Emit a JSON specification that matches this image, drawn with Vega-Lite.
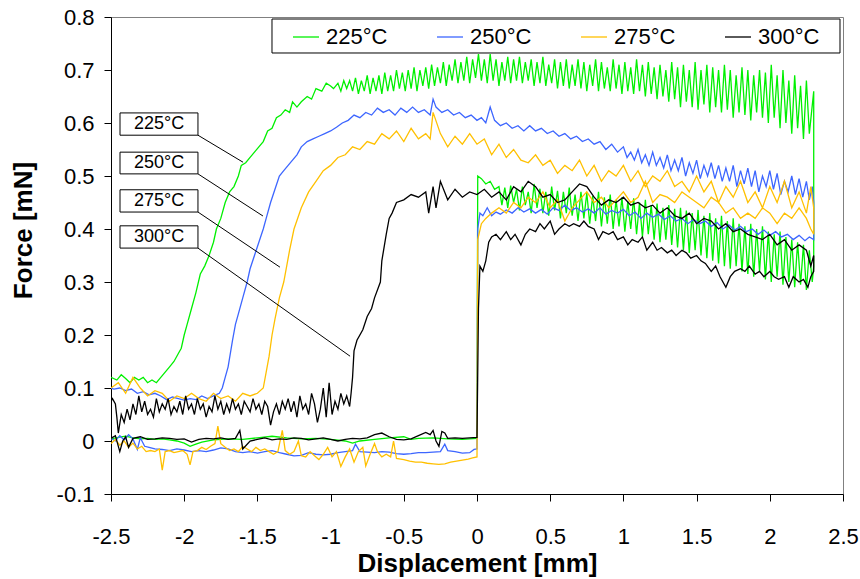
{
"$schema": "https://vega.github.io/schema/vega-lite/v6.json",
"width": 732, "height": 477,
"autosize": {"type": "none"},
"padding": {"left": 111, "top": 17, "right": 17, "bottom": 85},
"background": "white",
"config": {
  "font": "Liberation Sans",
  "view": {"stroke": "#808080", "strokeWidth": 1},
  "axis": {"grid": false, "domainColor": "black", "tickColor": "black", "labelColor": "black", "titleColor": "black", "tickSize": 7, "labelFontSize": 22, "titleFontSize": 26, "titleFontWeight": "bold", "labelFlush": false, "labelOverlap": false}
},
"layer": [
{
"data": {"values": [
{"s":"225°C","x":-2.5,"y":0.004},{"s":"225°C","x":-2.45,"y":0.007},{"s":"225°C","x":-2.4,"y":0.009},{"s":"225°C","x":-2.35,"y":0.006},{"s":"225°C","x":-2.3,"y":0.004},{"s":"225°C","x":-2.25,"y":0.005},{"s":"225°C","x":-2.2,"y":0.003},{"s":"225°C","x":-2.15,"y":0.004},{"s":"225°C","x":-2.1,"y":0.002},{"s":"225°C","x":-2.05,"y":0.0},{"s":"225°C","x":-2.0,"y":-0.004},{"s":"225°C","x":-1.96,"y":-0.01},{"s":"225°C","x":-1.92,"y":-0.006},{"s":"225°C","x":-1.88,"y":-0.002},{"s":"225°C","x":-1.8,"y":0.002},{"s":"225°C","x":-1.7,"y":0.004},{"s":"225°C","x":-1.6,"y":0.003},{"s":"225°C","x":-1.5,"y":0.006},{"s":"225°C","x":-1.4,"y":0.009},{"s":"225°C","x":-1.3,"y":0.006},{"s":"225°C","x":-1.2,"y":0.004},{"s":"225°C","x":-1.1,"y":0.005},{"s":"225°C","x":-1.0,"y":0.003},{"s":"225°C","x":-0.9,"y":0.0},{"s":"225°C","x":-0.85,"y":-0.004},{"s":"225°C","x":-0.8,"y":0.0},{"s":"225°C","x":-0.7,"y":0.003},{"s":"225°C","x":-0.6,"y":0.006},{"s":"225°C","x":-0.5,"y":0.008},{"s":"225°C","x":-0.45,"y":0.003},{"s":"225°C","x":-0.4,"y":0.005},{"s":"225°C","x":-0.3,"y":0.006},{"s":"225°C","x":-0.2,"y":0.004},{"s":"225°C","x":-0.1,"y":0.003},{"s":"225°C","x":-0.05,"y":0.004},{"s":"225°C","x":0.0,"y":0.005},
{"s":"225°C","x":0.005,"y":0.50},{"s":"225°C","x":0.03,"y":0.495},{"s":"225°C","x":0.06,"y":0.485},{"s":"225°C","x":0.09,"y":0.49},{"s":"225°C","x":0.12,"y":0.475},{"s":"225°C","x":0.15,"y":0.48},
{"s":"225°C","x":0.17,"y":0.445},{"s":"225°C","x":0.19,"y":0.478},{"s":"225°C","x":0.21,"y":0.44},{"s":"225°C","x":0.23,"y":0.482},{"s":"225°C","x":0.25,"y":0.45},{"s":"225°C","x":0.27,"y":0.475},{"s":"225°C","x":0.29,"y":0.435},{"s":"225°C","x":0.31,"y":0.48},{"s":"225°C","x":0.33,"y":0.445},{"s":"225°C","x":0.35,"y":0.47},{"s":"225°C","x":0.37,"y":0.43},{"s":"225°C","x":0.39,"y":0.485},{"s":"225°C","x":0.41,"y":0.44},{"s":"225°C","x":0.43,"y":0.476},{"s":"225°C","x":0.45,"y":0.43},{"s":"225°C","x":0.47,"y":0.47},{"s":"225°C","x":0.49,"y":0.425},{"s":"225°C","x":0.51,"y":0.48},{"s":"225°C","x":0.53,"y":0.435},{"s":"225°C","x":0.55,"y":0.472},{"s":"225°C","x":0.57,"y":0.42},{"s":"225°C","x":0.59,"y":0.47},{"s":"225°C","x":0.61,"y":0.43},{"s":"225°C","x":0.63,"y":0.478},{"s":"225°C","x":0.65,"y":0.425},{"s":"225°C","x":0.67,"y":0.465},{"s":"225°C","x":0.69,"y":0.415},{"s":"225°C","x":0.71,"y":0.47},{"s":"225°C","x":0.73,"y":0.42},{"s":"225°C","x":0.75,"y":0.468},{"s":"225°C","x":0.77,"y":0.41},{"s":"225°C","x":0.79,"y":0.462},{"s":"225°C","x":0.81,"y":0.415},{"s":"225°C","x":0.83,"y":0.47},{"s":"225°C","x":0.85,"y":0.405},{"s":"225°C","x":0.87,"y":0.46},{"s":"225°C","x":0.89,"y":0.41},{"s":"225°C","x":0.91,"y":0.465},{"s":"225°C","x":0.93,"y":0.40},{"s":"225°C","x":0.95,"y":0.455},{"s":"225°C","x":0.97,"y":0.405},{"s":"225°C","x":0.99,"y":0.46},{"s":"225°C","x":1.01,"y":0.395},{"s":"225°C","x":1.03,"y":0.452},{"s":"225°C","x":1.05,"y":0.40},{"s":"225°C","x":1.07,"y":0.458},{"s":"225°C","x":1.09,"y":0.39},{"s":"225°C","x":1.11,"y":0.45},{"s":"225°C","x":1.13,"y":0.385},{"s":"225°C","x":1.15,"y":0.455},{"s":"225°C","x":1.17,"y":0.39},{"s":"225°C","x":1.19,"y":0.445},{"s":"225°C","x":1.21,"y":0.38},{"s":"225°C","x":1.23,"y":0.448},{"s":"225°C","x":1.25,"y":0.375},{"s":"225°C","x":1.27,"y":0.44},{"s":"225°C","x":1.29,"y":0.38},{"s":"225°C","x":1.31,"y":0.445},{"s":"225°C","x":1.33,"y":0.37},{"s":"225°C","x":1.35,"y":0.438},{"s":"225°C","x":1.37,"y":0.365},{"s":"225°C","x":1.39,"y":0.44},{"s":"225°C","x":1.41,"y":0.36},{"s":"225°C","x":1.43,"y":0.435},{"s":"225°C","x":1.45,"y":0.355},{"s":"225°C","x":1.47,"y":0.43},{"s":"225°C","x":1.49,"y":0.36},{"s":"225°C","x":1.51,"y":0.436},{"s":"225°C","x":1.53,"y":0.35},{"s":"225°C","x":1.55,"y":0.425},{"s":"225°C","x":1.57,"y":0.345},{"s":"225°C","x":1.59,"y":0.43},{"s":"225°C","x":1.61,"y":0.34},{"s":"225°C","x":1.63,"y":0.42},{"s":"225°C","x":1.65,"y":0.335},{"s":"225°C","x":1.67,"y":0.425},{"s":"225°C","x":1.69,"y":0.33},{"s":"225°C","x":1.71,"y":0.415},{"s":"225°C","x":1.73,"y":0.325},{"s":"225°C","x":1.75,"y":0.42},{"s":"225°C","x":1.77,"y":0.33},{"s":"225°C","x":1.79,"y":0.41},{"s":"225°C","x":1.81,"y":0.32},{"s":"225°C","x":1.83,"y":0.405},{"s":"225°C","x":1.85,"y":0.315},{"s":"225°C","x":1.87,"y":0.41},{"s":"225°C","x":1.89,"y":0.31},{"s":"225°C","x":1.91,"y":0.40},{"s":"225°C","x":1.93,"y":0.32},{"s":"225°C","x":1.95,"y":0.405},{"s":"225°C","x":1.97,"y":0.305},{"s":"225°C","x":1.99,"y":0.395},{"s":"225°C","x":2.01,"y":0.30},{"s":"225°C","x":2.03,"y":0.39},{"s":"225°C","x":2.05,"y":0.31},{"s":"225°C","x":2.07,"y":0.395},{"s":"225°C","x":2.09,"y":0.295},{"s":"225°C","x":2.11,"y":0.385},{"s":"225°C","x":2.13,"y":0.30},{"s":"225°C","x":2.15,"y":0.38},{"s":"225°C","x":2.17,"y":0.29},{"s":"225°C","x":2.19,"y":0.375},{"s":"225°C","x":2.21,"y":0.295},{"s":"225°C","x":2.23,"y":0.37},{"s":"225°C","x":2.25,"y":0.285},{"s":"225°C","x":2.27,"y":0.36},{"s":"225°C","x":2.29,"y":0.30},{"s":"225°C","x":2.3,"y":0.33},
{"s":"225°C","x":2.3,"y":0.66},{"s":"225°C","x":2.27,"y":0.58},{"s":"225°C","x":2.25,"y":0.68},{"s":"225°C","x":2.23,"y":0.57},{"s":"225°C","x":2.21,"y":0.67},{"s":"225°C","x":2.19,"y":0.59},{"s":"225°C","x":2.17,"y":0.69},{"s":"225°C","x":2.15,"y":0.58},{"s":"225°C","x":2.13,"y":0.68},{"s":"225°C","x":2.11,"y":0.60},{"s":"225°C","x":2.09,"y":0.70},{"s":"225°C","x":2.07,"y":0.59},{"s":"225°C","x":2.05,"y":0.69},{"s":"225°C","x":2.03,"y":0.61},{"s":"225°C","x":2.01,"y":0.71},{"s":"225°C","x":1.99,"y":0.60},{"s":"225°C","x":1.97,"y":0.695},{"s":"225°C","x":1.95,"y":0.61},{"s":"225°C","x":1.93,"y":0.70},{"s":"225°C","x":1.91,"y":0.62},{"s":"225°C","x":1.89,"y":0.69},{"s":"225°C","x":1.87,"y":0.605},{"s":"225°C","x":1.85,"y":0.70},{"s":"225°C","x":1.83,"y":0.615},{"s":"225°C","x":1.81,"y":0.705},{"s":"225°C","x":1.79,"y":0.62},{"s":"225°C","x":1.77,"y":0.69},{"s":"225°C","x":1.75,"y":0.61},{"s":"225°C","x":1.73,"y":0.70},{"s":"225°C","x":1.71,"y":0.625},{"s":"225°C","x":1.69,"y":0.71},{"s":"225°C","x":1.67,"y":0.62},{"s":"225°C","x":1.65,"y":0.70},{"s":"225°C","x":1.63,"y":0.63},{"s":"225°C","x":1.61,"y":0.705},{"s":"225°C","x":1.59,"y":0.62},{"s":"225°C","x":1.57,"y":0.71},{"s":"225°C","x":1.55,"y":0.635},{"s":"225°C","x":1.53,"y":0.70},{"s":"225°C","x":1.51,"y":0.625},{"s":"225°C","x":1.49,"y":0.715},{"s":"225°C","x":1.47,"y":0.63},{"s":"225°C","x":1.45,"y":0.70},{"s":"225°C","x":1.43,"y":0.64},{"s":"225°C","x":1.41,"y":0.71},{"s":"225°C","x":1.39,"y":0.63},{"s":"225°C","x":1.37,"y":0.705},{"s":"225°C","x":1.35,"y":0.645},{"s":"225°C","x":1.33,"y":0.715},{"s":"225°C","x":1.31,"y":0.64},{"s":"225°C","x":1.29,"y":0.70},{"s":"225°C","x":1.27,"y":0.65},{"s":"225°C","x":1.25,"y":0.71},{"s":"225°C","x":1.23,"y":0.645},{"s":"225°C","x":1.21,"y":0.705},{"s":"225°C","x":1.19,"y":0.655},{"s":"225°C","x":1.17,"y":0.715},{"s":"225°C","x":1.15,"y":0.65},{"s":"225°C","x":1.13,"y":0.71},{"s":"225°C","x":1.11,"y":0.66},{"s":"225°C","x":1.09,"y":0.72},{"s":"225°C","x":1.07,"y":0.655},{"s":"225°C","x":1.05,"y":0.705},{"s":"225°C","x":1.03,"y":0.66},{"s":"225°C","x":1.01,"y":0.715},{"s":"225°C","x":0.99,"y":0.655},{"s":"225°C","x":0.97,"y":0.71},{"s":"225°C","x":0.95,"y":0.665},{"s":"225°C","x":0.93,"y":0.72},{"s":"225°C","x":0.91,"y":0.66},{"s":"225°C","x":0.89,"y":0.705},{"s":"225°C","x":0.87,"y":0.665},{"s":"225°C","x":0.85,"y":0.715},{"s":"225°C","x":0.83,"y":0.66},{"s":"225°C","x":0.81,"y":0.72},{"s":"225°C","x":0.79,"y":0.67},{"s":"225°C","x":0.77,"y":0.71},{"s":"225°C","x":0.75,"y":0.66},{"s":"225°C","x":0.73,"y":0.715},{"s":"225°C","x":0.71,"y":0.665},{"s":"225°C","x":0.69,"y":0.72},{"s":"225°C","x":0.67,"y":0.67},{"s":"225°C","x":0.65,"y":0.71},{"s":"225°C","x":0.63,"y":0.665},{"s":"225°C","x":0.61,"y":0.72},{"s":"225°C","x":0.59,"y":0.67},{"s":"225°C","x":0.57,"y":0.715},{"s":"225°C","x":0.55,"y":0.665},{"s":"225°C","x":0.53,"y":0.72},{"s":"225°C","x":0.51,"y":0.675},{"s":"225°C","x":0.49,"y":0.71},{"s":"225°C","x":0.47,"y":0.67},{"s":"225°C","x":0.45,"y":0.725},{"s":"225°C","x":0.43,"y":0.675},{"s":"225°C","x":0.41,"y":0.715},{"s":"225°C","x":0.39,"y":0.67},{"s":"225°C","x":0.37,"y":0.72},{"s":"225°C","x":0.35,"y":0.68},{"s":"225°C","x":0.33,"y":0.715},{"s":"225°C","x":0.31,"y":0.675},{"s":"225°C","x":0.29,"y":0.725},{"s":"225°C","x":0.27,"y":0.68},{"s":"225°C","x":0.25,"y":0.72},{"s":"225°C","x":0.23,"y":0.675},{"s":"225°C","x":0.21,"y":0.725},{"s":"225°C","x":0.19,"y":0.68},{"s":"225°C","x":0.17,"y":0.715},{"s":"225°C","x":0.15,"y":0.67},{"s":"225°C","x":0.13,"y":0.72},{"s":"225°C","x":0.11,"y":0.68},{"s":"225°C","x":0.09,"y":0.73},{"s":"225°C","x":0.07,"y":0.675},{"s":"225°C","x":0.05,"y":0.72},{"s":"225°C","x":0.03,"y":0.68},{"s":"225°C","x":0.01,"y":0.73},{"s":"225°C","x":-0.01,"y":0.685},{"s":"225°C","x":-0.03,"y":0.72},{"s":"225°C","x":-0.05,"y":0.675},{"s":"225°C","x":-0.07,"y":0.725},{"s":"225°C","x":-0.09,"y":0.68},{"s":"225°C","x":-0.11,"y":0.715},{"s":"225°C","x":-0.13,"y":0.675},{"s":"225°C","x":-0.15,"y":0.72},{"s":"225°C","x":-0.17,"y":0.68},{"s":"225°C","x":-0.19,"y":0.71},{"s":"225°C","x":-0.21,"y":0.67},{"s":"225°C","x":-0.23,"y":0.715},{"s":"225°C","x":-0.25,"y":0.675},{"s":"225°C","x":-0.27,"y":0.705},{"s":"225°C","x":-0.29,"y":0.67},{"s":"225°C","x":-0.31,"y":0.71},{"s":"225°C","x":-0.33,"y":0.665},{"s":"225°C","x":-0.35,"y":0.705},{"s":"225°C","x":-0.37,"y":0.67},{"s":"225°C","x":-0.39,"y":0.70},{"s":"225°C","x":-0.41,"y":0.66},{"s":"225°C","x":-0.43,"y":0.705},{"s":"225°C","x":-0.45,"y":0.665},{"s":"225°C","x":-0.47,"y":0.70},{"s":"225°C","x":-0.49,"y":0.66},{"s":"225°C","x":-0.51,"y":0.695},{"s":"225°C","x":-0.53,"y":0.665},{"s":"225°C","x":-0.55,"y":0.70},{"s":"225°C","x":-0.57,"y":0.66},{"s":"225°C","x":-0.59,"y":0.69},{"s":"225°C","x":-0.61,"y":0.66},{"s":"225°C","x":-0.63,"y":0.695},{"s":"225°C","x":-0.65,"y":0.655},{"s":"225°C","x":-0.67,"y":0.69},{"s":"225°C","x":-0.69,"y":0.66},{"s":"225°C","x":-0.71,"y":0.685},{"s":"225°C","x":-0.73,"y":0.655},{"s":"225°C","x":-0.75,"y":0.69},{"s":"225°C","x":-0.77,"y":0.66},{"s":"225°C","x":-0.79,"y":0.68},{"s":"225°C","x":-0.81,"y":0.655},{"s":"225°C","x":-0.83,"y":0.685},{"s":"225°C","x":-0.85,"y":0.66},{"s":"225°C","x":-0.87,"y":0.68},{"s":"225°C","x":-0.89,"y":0.665},{"s":"225°C","x":-0.91,"y":0.68},{"s":"225°C","x":-0.93,"y":0.66},{"s":"225°C","x":-0.95,"y":0.675},{"s":"225°C","x":-0.98,"y":0.665},{"s":"225°C","x":-1.0,"y":0.67},
{"s":"225°C","x":-1.03,"y":0.675},{"s":"225°C","x":-1.06,"y":0.66},{"s":"225°C","x":-1.1,"y":0.665},{"s":"225°C","x":-1.13,"y":0.645},{"s":"225°C","x":-1.16,"y":0.65},{"s":"225°C","x":-1.2,"y":0.64},{"s":"225°C","x":-1.23,"y":0.63},{"s":"225°C","x":-1.26,"y":0.64},{"s":"225°C","x":-1.28,"y":0.62},{"s":"225°C","x":-1.31,"y":0.625},{"s":"225°C","x":-1.34,"y":0.615},{"s":"225°C","x":-1.37,"y":0.61},{"s":"225°C","x":-1.4,"y":0.59},{"s":"225°C","x":-1.43,"y":0.585},{"s":"225°C","x":-1.46,"y":0.565},{"s":"225°C","x":-1.49,"y":0.555},{"s":"225°C","x":-1.52,"y":0.545},{"s":"225°C","x":-1.55,"y":0.535},{"s":"225°C","x":-1.58,"y":0.525},{"s":"225°C","x":-1.61,"y":0.52},{"s":"225°C","x":-1.63,"y":0.5},{"s":"225°C","x":-1.66,"y":0.48},{"s":"225°C","x":-1.69,"y":0.47},{"s":"225°C","x":-1.72,"y":0.45},{"s":"225°C","x":-1.75,"y":0.42},{"s":"225°C","x":-1.78,"y":0.40},{"s":"225°C","x":-1.8,"y":0.375},{"s":"225°C","x":-1.83,"y":0.35},{"s":"225°C","x":-1.86,"y":0.33},{"s":"225°C","x":-1.89,"y":0.315},{"s":"225°C","x":-1.92,"y":0.28},{"s":"225°C","x":-1.95,"y":0.25},{"s":"225°C","x":-1.98,"y":0.22},{"s":"225°C","x":-2.0,"y":0.20},{"s":"225°C","x":-2.02,"y":0.175},{"s":"225°C","x":-2.04,"y":0.165},{"s":"225°C","x":-2.07,"y":0.15},{"s":"225°C","x":-2.1,"y":0.14},{"s":"225°C","x":-2.13,"y":0.13},{"s":"225°C","x":-2.16,"y":0.12},{"s":"225°C","x":-2.19,"y":0.11},{"s":"225°C","x":-2.22,"y":0.115},{"s":"225°C","x":-2.25,"y":0.11},{"s":"225°C","x":-2.28,"y":0.12},{"s":"225°C","x":-2.31,"y":0.115},{"s":"225°C","x":-2.34,"y":0.12},{"s":"225°C","x":-2.37,"y":0.11},{"s":"225°C","x":-2.4,"y":0.118},{"s":"225°C","x":-2.43,"y":0.125},{"s":"225°C","x":-2.46,"y":0.115},{"s":"225°C","x":-2.5,"y":0.12},

{"s":"250°C","x":-2.5,"y":0.005},{"s":"250°C","x":-2.47,"y":0.0},{"s":"250°C","x":-2.44,"y":0.01},{"s":"250°C","x":-2.41,"y":0.002},{"s":"250°C","x":-2.38,"y":0.012},{"s":"250°C","x":-2.35,"y":0.004},{"s":"250°C","x":-2.32,"y":-0.016},{"s":"250°C","x":-2.3,"y":0.006},{"s":"250°C","x":-2.27,"y":-0.01},{"s":"250°C","x":-2.24,"y":-0.012},{"s":"250°C","x":-2.2,"y":-0.015},{"s":"250°C","x":-2.15,"y":-0.016},{"s":"250°C","x":-2.1,"y":-0.018},{"s":"250°C","x":-2.05,"y":-0.015},{"s":"250°C","x":-2.0,"y":-0.017},{"s":"250°C","x":-1.95,"y":-0.02},{"s":"250°C","x":-1.9,"y":-0.018},{"s":"250°C","x":-1.85,"y":-0.02},{"s":"250°C","x":-1.8,"y":-0.017},{"s":"250°C","x":-1.75,"y":-0.013},{"s":"250°C","x":-1.7,"y":-0.015},{"s":"250°C","x":-1.65,"y":-0.02},{"s":"250°C","x":-1.6,"y":-0.022},{"s":"250°C","x":-1.55,"y":-0.02},{"s":"250°C","x":-1.5,"y":-0.023},{"s":"250°C","x":-1.45,"y":-0.02},{"s":"250°C","x":-1.4,"y":-0.018},{"s":"250°C","x":-1.35,"y":-0.022},{"s":"250°C","x":-1.3,"y":-0.025},{"s":"250°C","x":-1.25,"y":-0.028},{"s":"250°C","x":-1.2,"y":-0.027},{"s":"250°C","x":-1.15,"y":-0.022},{"s":"250°C","x":-1.1,"y":-0.025},{"s":"250°C","x":-1.05,"y":-0.026},{"s":"250°C","x":-1.0,"y":-0.025},{"s":"250°C","x":-0.95,"y":-0.022},{"s":"250°C","x":-0.9,"y":-0.02},{"s":"250°C","x":-0.85,"y":-0.018},{"s":"250°C","x":-0.83,"y":-0.006},{"s":"250°C","x":-0.8,"y":-0.02},{"s":"250°C","x":-0.75,"y":-0.021},{"s":"250°C","x":-0.7,"y":-0.022},{"s":"250°C","x":-0.65,"y":-0.02},{"s":"250°C","x":-0.6,"y":-0.021},{"s":"250°C","x":-0.55,"y":-0.024},{"s":"250°C","x":-0.5,"y":-0.025},{"s":"250°C","x":-0.45,"y":-0.024},{"s":"250°C","x":-0.4,"y":-0.022},{"s":"250°C","x":-0.35,"y":-0.022},{"s":"250°C","x":-0.3,"y":-0.021},{"s":"250°C","x":-0.25,"y":-0.02},{"s":"250°C","x":-0.22,"y":-0.006},{"s":"250°C","x":-0.2,"y":-0.018},{"s":"250°C","x":-0.15,"y":-0.02},{"s":"250°C","x":-0.1,"y":-0.023},{"s":"250°C","x":-0.05,"y":-0.022},{"s":"250°C","x":-0.02,"y":-0.016},{"s":"250°C","x":0.0,"y":-0.015},
{"s":"250°C","x":0.005,"y":0.40},{"s":"250°C","x":0.02,"y":0.43},{"s":"250°C","x":0.04,"y":0.425},{"s":"250°C","x":0.07,"y":0.44},{"s":"250°C","x":0.1,"y":0.425},{"s":"250°C","x":0.13,"y":0.432},{"s":"250°C","x":0.16,"y":0.428},{"s":"250°C","x":0.2,"y":0.436},{"s":"250°C","x":0.24,"y":0.43},{"s":"250°C","x":0.28,"y":0.44},{"s":"250°C","x":0.32,"y":0.432},{"s":"250°C","x":0.36,"y":0.438},{"s":"250°C","x":0.4,"y":0.43},{"s":"250°C","x":0.44,"y":0.437},{"s":"250°C","x":0.48,"y":0.428},{"s":"250°C","x":0.52,"y":0.44},{"s":"250°C","x":0.56,"y":0.435},{"s":"250°C","x":0.6,"y":0.445},{"s":"250°C","x":0.64,"y":0.435},{"s":"250°C","x":0.68,"y":0.44},{"s":"250°C","x":0.72,"y":0.432},{"s":"250°C","x":0.76,"y":0.438},{"s":"250°C","x":0.8,"y":0.43},{"s":"250°C","x":0.84,"y":0.44},{"s":"250°C","x":0.88,"y":0.428},{"s":"250°C","x":0.92,"y":0.435},{"s":"250°C","x":0.96,"y":0.43},{"s":"250°C","x":1.0,"y":0.437},{"s":"250°C","x":1.04,"y":0.425},{"s":"250°C","x":1.08,"y":0.432},{"s":"250°C","x":1.12,"y":0.42},{"s":"250°C","x":1.16,"y":0.43},{"s":"250°C","x":1.2,"y":0.422},{"s":"250°C","x":1.24,"y":0.428},{"s":"250°C","x":1.28,"y":0.418},{"s":"250°C","x":1.32,"y":0.425},{"s":"250°C","x":1.36,"y":0.415},{"s":"250°C","x":1.4,"y":0.42},{"s":"250°C","x":1.44,"y":0.41},{"s":"250°C","x":1.48,"y":0.418},{"s":"250°C","x":1.52,"y":0.41},{"s":"250°C","x":1.56,"y":0.415},{"s":"250°C","x":1.6,"y":0.405},{"s":"250°C","x":1.64,"y":0.412},{"s":"250°C","x":1.68,"y":0.40},{"s":"250°C","x":1.72,"y":0.408},{"s":"250°C","x":1.76,"y":0.398},{"s":"250°C","x":1.8,"y":0.405},{"s":"250°C","x":1.84,"y":0.395},{"s":"250°C","x":1.88,"y":0.40},{"s":"250°C","x":1.92,"y":0.39},{"s":"250°C","x":1.96,"y":0.398},{"s":"250°C","x":2.0,"y":0.388},{"s":"250°C","x":2.04,"y":0.395},{"s":"250°C","x":2.08,"y":0.385},{"s":"250°C","x":2.12,"y":0.39},{"s":"250°C","x":2.16,"y":0.38},{"s":"250°C","x":2.2,"y":0.388},{"s":"250°C","x":2.24,"y":0.378},{"s":"250°C","x":2.27,"y":0.385},{"s":"250°C","x":2.3,"y":0.38},
{"s":"250°C","x":2.3,"y":0.45},{"s":"250°C","x":2.29,"y":0.48},{"s":"250°C","x":2.27,"y":0.455},{"s":"250°C","x":2.25,"y":0.49},{"s":"250°C","x":2.225,"y":0.46},{"s":"250°C","x":2.2,"y":0.495},{"s":"250°C","x":2.175,"y":0.465},{"s":"250°C","x":2.15,"y":0.50},{"s":"250°C","x":2.125,"y":0.47},{"s":"250°C","x":2.1,"y":0.49},{"s":"250°C","x":2.075,"y":0.465},{"s":"250°C","x":2.05,"y":0.505},{"s":"250°C","x":2.025,"y":0.475},{"s":"250°C","x":2.0,"y":0.51},{"s":"250°C","x":1.975,"y":0.48},{"s":"250°C","x":1.95,"y":0.50},{"s":"250°C","x":1.925,"y":0.47},{"s":"250°C","x":1.9,"y":0.51},{"s":"250°C","x":1.875,"y":0.48},{"s":"250°C","x":1.85,"y":0.515},{"s":"250°C","x":1.825,"y":0.485},{"s":"250°C","x":1.8,"y":0.51},{"s":"250°C","x":1.775,"y":0.48},{"s":"250°C","x":1.75,"y":0.52},{"s":"250°C","x":1.725,"y":0.49},{"s":"250°C","x":1.7,"y":0.515},{"s":"250°C","x":1.675,"y":0.49},{"s":"250°C","x":1.65,"y":0.52},{"s":"250°C","x":1.625,"y":0.495},{"s":"250°C","x":1.6,"y":0.525},{"s":"250°C","x":1.575,"y":0.50},{"s":"250°C","x":1.55,"y":0.52},{"s":"250°C","x":1.525,"y":0.495},{"s":"250°C","x":1.5,"y":0.53},{"s":"250°C","x":1.475,"y":0.505},{"s":"250°C","x":1.45,"y":0.525},{"s":"250°C","x":1.425,"y":0.50},{"s":"250°C","x":1.4,"y":0.535},{"s":"250°C","x":1.375,"y":0.51},{"s":"250°C","x":1.35,"y":0.53},{"s":"250°C","x":1.325,"y":0.51},{"s":"250°C","x":1.3,"y":0.54},{"s":"250°C","x":1.275,"y":0.515},{"s":"250°C","x":1.25,"y":0.535},{"s":"250°C","x":1.225,"y":0.52},{"s":"250°C","x":1.2,"y":0.545},{"s":"250°C","x":1.175,"y":0.52},{"s":"250°C","x":1.15,"y":0.54},{"s":"250°C","x":1.125,"y":0.525},{"s":"250°C","x":1.1,"y":0.55},{"s":"250°C","x":1.075,"y":0.53},{"s":"250°C","x":1.05,"y":0.545},{"s":"250°C","x":1.025,"y":0.535},{"s":"250°C","x":1.0,"y":0.555},{"s":"250°C","x":0.96,"y":0.545},{"s":"250°C","x":0.92,"y":0.56},{"s":"250°C","x":0.88,"y":0.55},{"s":"250°C","x":0.84,"y":0.565},{"s":"250°C","x":0.8,"y":0.56},{"s":"250°C","x":0.76,"y":0.57},{"s":"250°C","x":0.72,"y":0.565},{"s":"250°C","x":0.68,"y":0.575},{"s":"250°C","x":0.64,"y":0.57},{"s":"250°C","x":0.6,"y":0.58},{"s":"250°C","x":0.56,"y":0.575},{"s":"250°C","x":0.52,"y":0.585},{"s":"250°C","x":0.48,"y":0.58},{"s":"250°C","x":0.44,"y":0.59},{"s":"250°C","x":0.4,"y":0.585},{"s":"250°C","x":0.36,"y":0.595},{"s":"250°C","x":0.32,"y":0.585},{"s":"250°C","x":0.28,"y":0.595},{"s":"250°C","x":0.24,"y":0.59},{"s":"250°C","x":0.2,"y":0.60},{"s":"250°C","x":0.16,"y":0.595},{"s":"250°C","x":0.12,"y":0.605},{"s":"250°C","x":0.09,"y":0.63},{"s":"250°C","x":0.06,"y":0.60},{"s":"250°C","x":0.03,"y":0.61},{"s":"250°C","x":0.0,"y":0.605},{"s":"250°C","x":-0.04,"y":0.615},{"s":"250°C","x":-0.08,"y":0.61},{"s":"250°C","x":-0.12,"y":0.62},{"s":"250°C","x":-0.16,"y":0.615},{"s":"250°C","x":-0.2,"y":0.625},{"s":"250°C","x":-0.24,"y":0.62},{"s":"250°C","x":-0.28,"y":0.63},{"s":"250°C","x":-0.3,"y":0.645},{"s":"250°C","x":-0.32,"y":0.615},{"s":"250°C","x":-0.36,"y":0.625},{"s":"250°C","x":-0.4,"y":0.62},{"s":"250°C","x":-0.44,"y":0.63},{"s":"250°C","x":-0.48,"y":0.62},{"s":"250°C","x":-0.52,"y":0.628},{"s":"250°C","x":-0.56,"y":0.615},{"s":"250°C","x":-0.6,"y":0.625},{"s":"250°C","x":-0.64,"y":0.62},{"s":"250°C","x":-0.68,"y":0.628},{"s":"250°C","x":-0.72,"y":0.615},{"s":"250°C","x":-0.76,"y":0.62},{"s":"250°C","x":-0.8,"y":0.61},{"s":"250°C","x":-0.84,"y":0.615},{"s":"250°C","x":-0.88,"y":0.605},{"s":"250°C","x":-0.92,"y":0.60},{"s":"250°C","x":-0.96,"y":0.592},{"s":"250°C","x":-1.0,"y":0.585},{"s":"250°C","x":-1.04,"y":0.58},{"s":"250°C","x":-1.08,"y":0.575},{"s":"250°C","x":-1.12,"y":0.57},{"s":"250°C","x":-1.16,"y":0.565},{"s":"250°C","x":-1.2,"y":0.555},{"s":"250°C","x":-1.23,"y":0.54},{"s":"250°C","x":-1.26,"y":0.53},{"s":"250°C","x":-1.29,"y":0.52},{"s":"250°C","x":-1.32,"y":0.51},{"s":"250°C","x":-1.35,"y":0.50},{"s":"250°C","x":-1.38,"y":0.475},{"s":"250°C","x":-1.41,"y":0.45},{"s":"250°C","x":-1.44,"y":0.42},{"s":"250°C","x":-1.46,"y":0.40},{"s":"250°C","x":-1.49,"y":0.375},{"s":"250°C","x":-1.52,"y":0.35},{"s":"250°C","x":-1.55,"y":0.325},{"s":"250°C","x":-1.57,"y":0.30},{"s":"250°C","x":-1.6,"y":0.27},{"s":"250°C","x":-1.63,"y":0.24},{"s":"250°C","x":-1.65,"y":0.22},{"s":"250°C","x":-1.67,"y":0.19},{"s":"250°C","x":-1.7,"y":0.14},{"s":"250°C","x":-1.72,"y":0.12},{"s":"250°C","x":-1.74,"y":0.10},{"s":"250°C","x":-1.76,"y":0.09},{"s":"250°C","x":-1.8,"y":0.085},{"s":"250°C","x":-1.84,"y":0.08},{"s":"250°C","x":-1.88,"y":0.085},{"s":"250°C","x":-1.92,"y":0.078},{"s":"250°C","x":-1.96,"y":0.08},{"s":"250°C","x":-2.0,"y":0.077},{"s":"250°C","x":-2.04,"y":0.08},{"s":"250°C","x":-2.08,"y":0.083},{"s":"250°C","x":-2.12,"y":0.078},{"s":"250°C","x":-2.16,"y":0.085},{"s":"250°C","x":-2.2,"y":0.09},{"s":"250°C","x":-2.24,"y":0.087},{"s":"250°C","x":-2.28,"y":0.093},{"s":"250°C","x":-2.32,"y":0.09},{"s":"250°C","x":-2.36,"y":0.098},{"s":"250°C","x":-2.4,"y":0.095},{"s":"250°C","x":-2.44,"y":0.10},{"s":"250°C","x":-2.48,"y":0.098},{"s":"250°C","x":-2.5,"y":0.10},

{"s":"275°C","x":-2.5,"y":-0.005},{"s":"275°C","x":-2.47,"y":0.003},{"s":"275°C","x":-2.44,"y":-0.008},{"s":"275°C","x":-2.41,"y":0.0},{"s":"275°C","x":-2.38,"y":-0.012},{"s":"275°C","x":-2.35,"y":-0.004},{"s":"275°C","x":-2.32,"y":-0.015},{"s":"275°C","x":-2.29,"y":-0.01},{"s":"275°C","x":-2.26,"y":-0.02},{"s":"275°C","x":-2.23,"y":-0.018},{"s":"275°C","x":-2.2,"y":-0.02},{"s":"275°C","x":-2.17,"y":-0.015},{"s":"275°C","x":-2.15,"y":-0.055},{"s":"275°C","x":-2.13,"y":-0.02},{"s":"275°C","x":-2.1,"y":-0.018},{"s":"275°C","x":-2.07,"y":-0.022},{"s":"275°C","x":-2.04,"y":-0.02},{"s":"275°C","x":-2.01,"y":-0.018},{"s":"275°C","x":-1.98,"y":-0.025},{"s":"275°C","x":-1.96,"y":-0.045},{"s":"275°C","x":-1.94,"y":-0.02},{"s":"275°C","x":-1.91,"y":-0.018},{"s":"275°C","x":-1.88,"y":-0.012},{"s":"275°C","x":-1.85,"y":-0.016},{"s":"275°C","x":-1.82,"y":-0.01},{"s":"275°C","x":-1.79,"y":-0.005},{"s":"275°C","x":-1.77,"y":0.028},{"s":"275°C","x":-1.75,"y":-0.005},{"s":"275°C","x":-1.72,"y":-0.012},{"s":"275°C","x":-1.69,"y":-0.018},{"s":"275°C","x":-1.66,"y":-0.015},{"s":"275°C","x":-1.63,"y":-0.02},{"s":"275°C","x":-1.6,"y":-0.01},{"s":"275°C","x":-1.57,"y":-0.015},{"s":"275°C","x":-1.54,"y":-0.02},{"s":"275°C","x":-1.51,"y":-0.012},{"s":"275°C","x":-1.48,"y":-0.018},{"s":"275°C","x":-1.45,"y":-0.015},{"s":"275°C","x":-1.42,"y":-0.02},{"s":"275°C","x":-1.39,"y":-0.025},{"s":"275°C","x":-1.36,"y":-0.02},{"s":"275°C","x":-1.33,"y":0.02},{"s":"275°C","x":-1.31,"y":-0.018},{"s":"275°C","x":-1.28,"y":-0.025},{"s":"275°C","x":-1.25,"y":-0.02},{"s":"275°C","x":-1.22,"y":0.0},{"s":"275°C","x":-1.2,"y":-0.028},{"s":"275°C","x":-1.17,"y":-0.03},{"s":"275°C","x":-1.14,"y":-0.02},{"s":"275°C","x":-1.11,"y":-0.028},{"s":"275°C","x":-1.08,"y":-0.035},{"s":"275°C","x":-1.05,"y":-0.025},{"s":"275°C","x":-1.02,"y":-0.012},{"s":"275°C","x":-0.99,"y":-0.03},{"s":"275°C","x":-0.96,"y":-0.02},{"s":"275°C","x":-0.93,"y":-0.048},{"s":"275°C","x":-0.9,"y":-0.03},{"s":"275°C","x":-0.87,"y":-0.015},{"s":"275°C","x":-0.84,"y":-0.04},{"s":"275°C","x":-0.81,"y":-0.02},{"s":"275°C","x":-0.78,"y":-0.012},{"s":"275°C","x":-0.76,"y":-0.047},{"s":"275°C","x":-0.73,"y":-0.025},{"s":"275°C","x":-0.7,"y":-0.005},{"s":"275°C","x":-0.68,"y":-0.02},{"s":"275°C","x":-0.65,"y":-0.03},{"s":"275°C","x":-0.62,"y":-0.025},{"s":"275°C","x":-0.59,"y":-0.03},{"s":"275°C","x":-0.57,"y":0.0},{"s":"275°C","x":-0.55,"y":-0.033},{"s":"275°C","x":-0.5,"y":-0.035},{"s":"275°C","x":-0.46,"y":-0.038},{"s":"275°C","x":-0.42,"y":-0.04},{"s":"275°C","x":-0.38,"y":-0.04},{"s":"275°C","x":-0.34,"y":-0.042},{"s":"275°C","x":-0.3,"y":-0.043},{"s":"275°C","x":-0.26,"y":-0.044},{"s":"275°C","x":-0.22,"y":-0.043},{"s":"275°C","x":-0.18,"y":-0.04},{"s":"275°C","x":-0.14,"y":-0.038},{"s":"275°C","x":-0.1,"y":-0.036},{"s":"275°C","x":-0.06,"y":-0.034},{"s":"275°C","x":-0.03,"y":-0.032},{"s":"275°C","x":0.0,"y":-0.03},
{"s":"275°C","x":0.005,"y":0.38},{"s":"275°C","x":0.03,"y":0.41},{"s":"275°C","x":0.06,"y":0.42},{"s":"275°C","x":0.1,"y":0.43},{"s":"275°C","x":0.15,"y":0.44},{"s":"275°C","x":0.2,"y":0.43},{"s":"275°C","x":0.25,"y":0.45},{"s":"275°C","x":0.3,"y":0.44},{"s":"275°C","x":0.35,"y":0.46},{"s":"275°C","x":0.4,"y":0.45},{"s":"275°C","x":0.45,"y":0.47},{"s":"275°C","x":0.5,"y":0.44},{"s":"275°C","x":0.55,"y":0.455},{"s":"275°C","x":0.6,"y":0.415},{"s":"275°C","x":0.65,"y":0.44},{"s":"275°C","x":0.7,"y":0.455},{"s":"275°C","x":0.75,"y":0.47},{"s":"275°C","x":0.8,"y":0.45},{"s":"275°C","x":0.85,"y":0.46},{"s":"275°C","x":0.9,"y":0.44},{"s":"275°C","x":0.95,"y":0.455},{"s":"275°C","x":1.0,"y":0.47},{"s":"275°C","x":1.05,"y":0.45},{"s":"275°C","x":1.1,"y":0.46},{"s":"275°C","x":1.15,"y":0.49},{"s":"275°C","x":1.2,"y":0.45},{"s":"275°C","x":1.25,"y":0.465},{"s":"275°C","x":1.3,"y":0.46},{"s":"275°C","x":1.35,"y":0.45},{"s":"275°C","x":1.4,"y":0.47},{"s":"275°C","x":1.45,"y":0.46},{"s":"275°C","x":1.5,"y":0.45},{"s":"275°C","x":1.55,"y":0.44},{"s":"275°C","x":1.6,"y":0.46},{"s":"275°C","x":1.65,"y":0.45},{"s":"275°C","x":1.7,"y":0.43},{"s":"275°C","x":1.75,"y":0.44},{"s":"275°C","x":1.8,"y":0.42},{"s":"275°C","x":1.85,"y":0.43},{"s":"275°C","x":1.9,"y":0.42},{"s":"275°C","x":1.95,"y":0.44},{"s":"275°C","x":2.0,"y":0.43},{"s":"275°C","x":2.05,"y":0.41},{"s":"275°C","x":2.1,"y":0.43},{"s":"275°C","x":2.15,"y":0.42},{"s":"275°C","x":2.2,"y":0.44},{"s":"275°C","x":2.25,"y":0.42},{"s":"275°C","x":2.28,"y":0.40},{"s":"275°C","x":2.3,"y":0.39},
{"s":"275°C","x":2.3,"y":0.44},{"s":"275°C","x":2.28,"y":0.48},{"s":"275°C","x":2.25,"y":0.43},{"s":"275°C","x":2.2,"y":0.47},{"s":"275°C","x":2.15,"y":0.44},{"s":"275°C","x":2.1,"y":0.49},{"s":"275°C","x":2.05,"y":0.45},{"s":"275°C","x":2.0,"y":0.48},{"s":"275°C","x":1.95,"y":0.44},{"s":"275°C","x":1.9,"y":0.47},{"s":"275°C","x":1.85,"y":0.45},{"s":"275°C","x":1.8,"y":0.49},{"s":"275°C","x":1.75,"y":0.46},{"s":"275°C","x":1.7,"y":0.48},{"s":"275°C","x":1.65,"y":0.45},{"s":"275°C","x":1.6,"y":0.49},{"s":"275°C","x":1.55,"y":0.47},{"s":"275°C","x":1.5,"y":0.50},{"s":"275°C","x":1.45,"y":0.47},{"s":"275°C","x":1.4,"y":0.49},{"s":"275°C","x":1.35,"y":0.48},{"s":"275°C","x":1.3,"y":0.51},{"s":"275°C","x":1.25,"y":0.49},{"s":"275°C","x":1.2,"y":0.50},{"s":"275°C","x":1.15,"y":0.48},{"s":"275°C","x":1.1,"y":0.51},{"s":"275°C","x":1.05,"y":0.49},{"s":"275°C","x":1.0,"y":0.52},{"s":"275°C","x":0.95,"y":0.50},{"s":"275°C","x":0.9,"y":0.51},{"s":"275°C","x":0.85,"y":0.49},{"s":"275°C","x":0.8,"y":0.52},{"s":"275°C","x":0.75,"y":0.50},{"s":"275°C","x":0.7,"y":0.53},{"s":"275°C","x":0.65,"y":0.51},{"s":"275°C","x":0.6,"y":0.52},{"s":"275°C","x":0.55,"y":0.505},{"s":"275°C","x":0.5,"y":0.53},{"s":"275°C","x":0.45,"y":0.52},{"s":"275°C","x":0.4,"y":0.54},{"s":"275°C","x":0.35,"y":0.525},{"s":"275°C","x":0.3,"y":0.53},{"s":"275°C","x":0.25,"y":0.55},{"s":"275°C","x":0.2,"y":0.535},{"s":"275°C","x":0.15,"y":0.56},{"s":"275°C","x":0.1,"y":0.54},{"s":"275°C","x":0.05,"y":0.57},{"s":"275°C","x":0.0,"y":0.56},{"s":"275°C","x":-0.05,"y":0.58},{"s":"275°C","x":-0.1,"y":0.56},{"s":"275°C","x":-0.15,"y":0.575},{"s":"275°C","x":-0.2,"y":0.555},{"s":"275°C","x":-0.25,"y":0.58},{"s":"275°C","x":-0.3,"y":0.62},{"s":"275°C","x":-0.32,"y":0.57},{"s":"275°C","x":-0.35,"y":0.58},{"s":"275°C","x":-0.4,"y":0.57},{"s":"275°C","x":-0.45,"y":0.59},{"s":"275°C","x":-0.5,"y":0.565},{"s":"275°C","x":-0.55,"y":0.585},{"s":"275°C","x":-0.6,"y":0.57},{"s":"275°C","x":-0.65,"y":0.58},{"s":"275°C","x":-0.7,"y":0.56},{"s":"275°C","x":-0.75,"y":0.565},{"s":"275°C","x":-0.8,"y":0.55},{"s":"275°C","x":-0.85,"y":0.555},{"s":"275°C","x":-0.9,"y":0.54},{"s":"275°C","x":-0.95,"y":0.535},{"s":"275°C","x":-1.0,"y":0.52},{"s":"275°C","x":-1.05,"y":0.51},{"s":"275°C","x":-1.1,"y":0.49},{"s":"275°C","x":-1.15,"y":0.47},{"s":"275°C","x":-1.2,"y":0.44},{"s":"275°C","x":-1.25,"y":0.40},{"s":"275°C","x":-1.28,"y":0.36},{"s":"275°C","x":-1.32,"y":0.30},{"s":"275°C","x":-1.35,"y":0.27},{"s":"275°C","x":-1.38,"y":0.23},{"s":"275°C","x":-1.4,"y":0.20},{"s":"275°C","x":-1.42,"y":0.16},{"s":"275°C","x":-1.44,"y":0.13},{"s":"275°C","x":-1.46,"y":0.10},{"s":"275°C","x":-1.5,"y":0.09},{"s":"275°C","x":-1.55,"y":0.085},{"s":"275°C","x":-1.6,"y":0.09},{"s":"275°C","x":-1.65,"y":0.075},{"s":"275°C","x":-1.7,"y":0.085},{"s":"275°C","x":-1.75,"y":0.08},{"s":"275°C","x":-1.8,"y":0.09},{"s":"275°C","x":-1.85,"y":0.075},{"s":"275°C","x":-1.9,"y":0.08},{"s":"275°C","x":-1.95,"y":0.09},{"s":"275°C","x":-2.0,"y":0.08},{"s":"275°C","x":-2.05,"y":0.085},{"s":"275°C","x":-2.1,"y":0.075},{"s":"275°C","x":-2.15,"y":0.09},{"s":"275°C","x":-2.2,"y":0.095},{"s":"275°C","x":-2.25,"y":0.085},{"s":"275°C","x":-2.3,"y":0.10},{"s":"275°C","x":-2.35,"y":0.12},{"s":"275°C","x":-2.4,"y":0.09},{"s":"275°C","x":-2.45,"y":0.11},{"s":"275°C","x":-2.5,"y":0.10},

{"s":"300°C","x":-2.5,"y":0.005},{"s":"300°C","x":-2.47,"y":0.01},{"s":"300°C","x":-2.44,"y":-0.02},{"s":"300°C","x":-2.42,"y":0.0},{"s":"300°C","x":-2.4,"y":0.008},{"s":"300°C","x":-2.38,"y":-0.012},{"s":"300°C","x":-2.35,"y":0.005},{"s":"300°C","x":-2.3,"y":0.008},{"s":"300°C","x":-2.25,"y":0.003},{"s":"300°C","x":-2.2,"y":0.004},{"s":"300°C","x":-2.15,"y":0.006},{"s":"300°C","x":-2.1,"y":0.005},{"s":"300°C","x":-2.05,"y":0.003},{"s":"300°C","x":-2.0,"y":0.004},{"s":"300°C","x":-1.95,"y":-0.002},{"s":"300°C","x":-1.9,"y":0.003},{"s":"300°C","x":-1.85,"y":0.005},{"s":"300°C","x":-1.8,"y":0.004},{"s":"300°C","x":-1.75,"y":0.006},{"s":"300°C","x":-1.7,"y":0.003},{"s":"300°C","x":-1.65,"y":0.005},{"s":"300°C","x":-1.62,"y":0.02},{"s":"300°C","x":-1.6,"y":-0.015},{"s":"300°C","x":-1.55,"y":0.0},{"s":"300°C","x":-1.5,"y":0.003},{"s":"300°C","x":-1.45,"y":0.006},{"s":"300°C","x":-1.4,"y":0.002},{"s":"300°C","x":-1.35,"y":0.004},{"s":"300°C","x":-1.3,"y":0.003},{"s":"300°C","x":-1.25,"y":0.006},{"s":"300°C","x":-1.2,"y":0.005},{"s":"300°C","x":-1.15,"y":0.002},{"s":"300°C","x":-1.1,"y":0.004},{"s":"300°C","x":-1.05,"y":0.006},{"s":"300°C","x":-1.0,"y":0.003},{"s":"300°C","x":-0.95,"y":0.0},{"s":"300°C","x":-0.9,"y":0.003},{"s":"300°C","x":-0.85,"y":0.005},{"s":"300°C","x":-0.8,"y":0.004},{"s":"300°C","x":-0.75,"y":0.006},{"s":"300°C","x":-0.7,"y":0.012},{"s":"300°C","x":-0.65,"y":0.015},{"s":"300°C","x":-0.6,"y":0.008},{"s":"300°C","x":-0.55,"y":0.003},{"s":"300°C","x":-0.5,"y":0.002},{"s":"300°C","x":-0.45,"y":0.004},{"s":"300°C","x":-0.4,"y":0.01},{"s":"300°C","x":-0.35,"y":0.016},{"s":"300°C","x":-0.32,"y":0.012},{"s":"300°C","x":-0.3,"y":0.02},{"s":"300°C","x":-0.28,"y":0.0},{"s":"300°C","x":-0.26,"y":-0.01},{"s":"300°C","x":-0.24,"y":0.018},{"s":"300°C","x":-0.22,"y":0.015},{"s":"300°C","x":-0.2,"y":0.005},{"s":"300°C","x":-0.15,"y":0.006},{"s":"300°C","x":-0.1,"y":0.005},{"s":"300°C","x":-0.05,"y":0.006},{"s":"300°C","x":0.0,"y":0.007},
{"s":"300°C","x":0.01,"y":0.25},{"s":"300°C","x":0.02,"y":0.33},{"s":"300°C","x":0.04,"y":0.32},{"s":"300°C","x":0.06,"y":0.34},{"s":"300°C","x":0.08,"y":0.375},{"s":"300°C","x":0.1,"y":0.385},{"s":"300°C","x":0.13,"y":0.39},{"s":"300°C","x":0.16,"y":0.38},{"s":"300°C","x":0.2,"y":0.395},{"s":"300°C","x":0.23,"y":0.38},{"s":"300°C","x":0.26,"y":0.39},{"s":"300°C","x":0.3,"y":0.37},{"s":"300°C","x":0.33,"y":0.39},{"s":"300°C","x":0.36,"y":0.40},{"s":"300°C","x":0.4,"y":0.395},{"s":"300°C","x":0.43,"y":0.41},{"s":"300°C","x":0.46,"y":0.40},{"s":"300°C","x":0.5,"y":0.415},{"s":"300°C","x":0.53,"y":0.39},{"s":"300°C","x":0.56,"y":0.40},{"s":"300°C","x":0.6,"y":0.41},{"s":"300°C","x":0.63,"y":0.405},{"s":"300°C","x":0.66,"y":0.41},{"s":"300°C","x":0.7,"y":0.405},{"s":"300°C","x":0.73,"y":0.415},{"s":"300°C","x":0.76,"y":0.405},{"s":"300°C","x":0.8,"y":0.40},{"s":"300°C","x":0.83,"y":0.38},{"s":"300°C","x":0.86,"y":0.395},{"s":"300°C","x":0.9,"y":0.39},{"s":"300°C","x":0.93,"y":0.395},{"s":"300°C","x":0.96,"y":0.38},{"s":"300°C","x":1.0,"y":0.385},{"s":"300°C","x":1.03,"y":0.37},{"s":"300°C","x":1.06,"y":0.38},{"s":"300°C","x":1.1,"y":0.375},{"s":"300°C","x":1.13,"y":0.385},{"s":"300°C","x":1.16,"y":0.36},{"s":"300°C","x":1.2,"y":0.375},{"s":"300°C","x":1.23,"y":0.36},{"s":"300°C","x":1.26,"y":0.365},{"s":"300°C","x":1.3,"y":0.355},{"s":"300°C","x":1.33,"y":0.36},{"s":"300°C","x":1.36,"y":0.35},{"s":"300°C","x":1.4,"y":0.36},{"s":"300°C","x":1.43,"y":0.355},{"s":"300°C","x":1.46,"y":0.345},{"s":"300°C","x":1.5,"y":0.35},{"s":"300°C","x":1.53,"y":0.34},{"s":"300°C","x":1.56,"y":0.335},{"s":"300°C","x":1.6,"y":0.32},{"s":"300°C","x":1.63,"y":0.33},{"s":"300°C","x":1.66,"y":0.31},{"s":"300°C","x":1.7,"y":0.29},{"s":"300°C","x":1.73,"y":0.31},{"s":"300°C","x":1.76,"y":0.32},{"s":"300°C","x":1.8,"y":0.325},{"s":"300°C","x":1.83,"y":0.32},{"s":"300°C","x":1.86,"y":0.33},{"s":"300°C","x":1.9,"y":0.315},{"s":"300°C","x":1.93,"y":0.32},{"s":"300°C","x":1.96,"y":0.31},{"s":"300°C","x":2.0,"y":0.32},{"s":"300°C","x":2.03,"y":0.31},{"s":"300°C","x":2.06,"y":0.305},{"s":"300°C","x":2.1,"y":0.31},{"s":"300°C","x":2.13,"y":0.29},{"s":"300°C","x":2.16,"y":0.31},{"s":"300°C","x":2.2,"y":0.30},{"s":"300°C","x":2.23,"y":0.305},{"s":"300°C","x":2.26,"y":0.29},{"s":"300°C","x":2.28,"y":0.31},{"s":"300°C","x":2.3,"y":0.32},
{"s":"300°C","x":2.3,"y":0.35},{"s":"300°C","x":2.28,"y":0.33},{"s":"300°C","x":2.25,"y":0.36},{"s":"300°C","x":2.2,"y":0.37},{"s":"300°C","x":2.15,"y":0.36},{"s":"300°C","x":2.1,"y":0.38},{"s":"300°C","x":2.05,"y":0.37},{"s":"300°C","x":2.0,"y":0.39},{"s":"300°C","x":1.95,"y":0.38},{"s":"300°C","x":1.9,"y":0.385},{"s":"300°C","x":1.85,"y":0.39},{"s":"300°C","x":1.8,"y":0.40},{"s":"300°C","x":1.75,"y":0.395},{"s":"300°C","x":1.7,"y":0.41},{"s":"300°C","x":1.65,"y":0.40},{"s":"300°C","x":1.6,"y":0.415},{"s":"300°C","x":1.55,"y":0.42},{"s":"300°C","x":1.5,"y":0.41},{"s":"300°C","x":1.45,"y":0.43},{"s":"300°C","x":1.4,"y":0.42},{"s":"300°C","x":1.35,"y":0.425},{"s":"300°C","x":1.3,"y":0.44},{"s":"300°C","x":1.25,"y":0.43},{"s":"300°C","x":1.2,"y":0.445},{"s":"300°C","x":1.15,"y":0.44},{"s":"300°C","x":1.1,"y":0.45},{"s":"300°C","x":1.05,"y":0.445},{"s":"300°C","x":1.0,"y":0.46},{"s":"300°C","x":0.95,"y":0.45},{"s":"300°C","x":0.9,"y":0.455},{"s":"300°C","x":0.85,"y":0.445},{"s":"300°C","x":0.8,"y":0.46},{"s":"300°C","x":0.75,"y":0.48},{"s":"300°C","x":0.7,"y":0.485},{"s":"300°C","x":0.65,"y":0.47},{"s":"300°C","x":0.6,"y":0.455},{"s":"300°C","x":0.55,"y":0.45},{"s":"300°C","x":0.5,"y":0.465},{"s":"300°C","x":0.45,"y":0.46},{"s":"300°C","x":0.4,"y":0.48},{"s":"300°C","x":0.35,"y":0.49},{"s":"300°C","x":0.3,"y":0.47},{"s":"300°C","x":0.25,"y":0.48},{"s":"300°C","x":0.2,"y":0.455},{"s":"300°C","x":0.15,"y":0.47},{"s":"300°C","x":0.1,"y":0.46},{"s":"300°C","x":0.05,"y":0.475},{"s":"300°C","x":0.0,"y":0.465},{"s":"300°C","x":-0.05,"y":0.47},{"s":"300°C","x":-0.1,"y":0.46},{"s":"300°C","x":-0.15,"y":0.475},{"s":"300°C","x":-0.2,"y":0.455},{"s":"300°C","x":-0.25,"y":0.49},{"s":"300°C","x":-0.28,"y":0.44},{"s":"300°C","x":-0.3,"y":0.48},{"s":"300°C","x":-0.33,"y":0.43},{"s":"300°C","x":-0.35,"y":0.47},{"s":"300°C","x":-0.4,"y":0.46},{"s":"300°C","x":-0.45,"y":0.465},{"s":"300°C","x":-0.5,"y":0.455},{"s":"300°C","x":-0.55,"y":0.45},{"s":"300°C","x":-0.58,"y":0.43},{"s":"300°C","x":-0.6,"y":0.42},{"s":"300°C","x":-0.62,"y":0.39},{"s":"300°C","x":-0.65,"y":0.34},{"s":"300°C","x":-0.66,"y":0.30},{"s":"300°C","x":-0.7,"y":0.27},{"s":"300°C","x":-0.72,"y":0.25},{"s":"300°C","x":-0.75,"y":0.235},{"s":"300°C","x":-0.78,"y":0.21},{"s":"300°C","x":-0.82,"y":0.19},{"s":"300°C","x":-0.84,"y":0.17},{"s":"300°C","x":-0.85,"y":0.12},{"s":"300°C","x":-0.86,"y":0.09},{"s":"300°C","x":-0.87,"y":0.065},
{"s":"300°C","x":-0.89,"y":0.085},{"s":"300°C","x":-0.91,"y":0.07},{"s":"300°C","x":-0.93,"y":0.09},{"s":"300°C","x":-0.95,"y":0.06},{"s":"300°C","x":-0.97,"y":0.075},{"s":"300°C","x":-0.99,"y":0.05},{"s":"300°C","x":-1.01,"y":0.11},{"s":"300°C","x":-1.03,"y":0.045},{"s":"300°C","x":-1.05,"y":0.10},{"s":"300°C","x":-1.07,"y":0.06},{"s":"300°C","x":-1.09,"y":0.035},{"s":"300°C","x":-1.11,"y":0.07},{"s":"300°C","x":-1.13,"y":0.09},{"s":"300°C","x":-1.15,"y":0.05},{"s":"300°C","x":-1.17,"y":0.07},{"s":"300°C","x":-1.19,"y":0.06},{"s":"300°C","x":-1.21,"y":0.085},{"s":"300°C","x":-1.23,"y":0.045},{"s":"300°C","x":-1.25,"y":0.075},{"s":"300°C","x":-1.27,"y":0.055},{"s":"300°C","x":-1.29,"y":0.08},{"s":"300°C","x":-1.31,"y":0.06},{"s":"300°C","x":-1.33,"y":0.075},{"s":"300°C","x":-1.35,"y":0.05},{"s":"300°C","x":-1.37,"y":0.07},{"s":"300°C","x":-1.39,"y":0.055},{"s":"300°C","x":-1.41,"y":0.03},{"s":"300°C","x":-1.43,"y":0.065},{"s":"300°C","x":-1.45,"y":0.075},{"s":"300°C","x":-1.47,"y":0.05},{"s":"300°C","x":-1.49,"y":0.07},{"s":"300°C","x":-1.51,"y":0.06},{"s":"300°C","x":-1.53,"y":0.08},{"s":"300°C","x":-1.55,"y":0.055},{"s":"300°C","x":-1.57,"y":0.065},{"s":"300°C","x":-1.59,"y":0.075},{"s":"300°C","x":-1.61,"y":0.05},{"s":"300°C","x":-1.63,"y":0.07},{"s":"300°C","x":-1.65,"y":0.06},{"s":"300°C","x":-1.67,"y":0.08},{"s":"300°C","x":-1.69,"y":0.055},{"s":"300°C","x":-1.71,"y":0.07},{"s":"300°C","x":-1.73,"y":0.05},{"s":"300°C","x":-1.75,"y":0.075},{"s":"300°C","x":-1.77,"y":0.06},{"s":"300°C","x":-1.79,"y":0.085},{"s":"300°C","x":-1.81,"y":0.055},{"s":"300°C","x":-1.83,"y":0.065},{"s":"300°C","x":-1.85,"y":0.045},{"s":"300°C","x":-1.87,"y":0.07},{"s":"300°C","x":-1.89,"y":0.06},{"s":"300°C","x":-1.91,"y":0.08},{"s":"300°C","x":-1.93,"y":0.05},{"s":"300°C","x":-1.95,"y":0.07},{"s":"300°C","x":-1.97,"y":0.06},{"s":"300°C","x":-1.99,"y":0.085},{"s":"300°C","x":-2.01,"y":0.05},{"s":"300°C","x":-2.03,"y":0.075},{"s":"300°C","x":-2.05,"y":0.055},{"s":"300°C","x":-2.07,"y":0.065},{"s":"300°C","x":-2.09,"y":0.05},{"s":"300°C","x":-2.11,"y":0.08},{"s":"300°C","x":-2.13,"y":0.06},{"s":"300°C","x":-2.15,"y":0.07},{"s":"300°C","x":-2.17,"y":0.055},{"s":"300°C","x":-2.19,"y":0.08},{"s":"300°C","x":-2.21,"y":0.045},{"s":"300°C","x":-2.23,"y":0.06},{"s":"300°C","x":-2.25,"y":0.05},{"s":"300°C","x":-2.27,"y":0.075},{"s":"300°C","x":-2.29,"y":0.055},{"s":"300°C","x":-2.31,"y":0.085},{"s":"300°C","x":-2.33,"y":0.05},{"s":"300°C","x":-2.35,"y":0.07},{"s":"300°C","x":-2.37,"y":0.04},{"s":"300°C","x":-2.39,"y":0.06},{"s":"300°C","x":-2.41,"y":0.035},{"s":"300°C","x":-2.43,"y":0.05},{"s":"300°C","x":-2.45,"y":0.015},{"s":"300°C","x":-2.46,"y":0.045},{"s":"300°C","x":-2.47,"y":0.07},{"s":"300°C","x":-2.49,"y":0.08},{"s":"300°C","x":-2.5,"y":0.075}
]},
"mark": {"type": "line", "strokeWidth": 1.3, "clip": true},
"encoding": {
  "x": {"field": "x", "type": "quantitative", "scale": {"domain": [-2.5, 2.5], "nice": false, "zero": false},
        "axis": {"title": "Displacement [mm]", "values": [-2.5,-2,-1.5,-1,-0.5,0,0.5,1,1.5,2,2.5], "labelExpr": "'' + datum.value", "labelPadding": 25, "titlePadding": 3}},
  "y": {"field": "y", "type": "quantitative", "scale": {"domain": [-0.1, 0.8], "nice": false, "zero": false},
        "axis": {"title": "Force [mN]", "values": [-0.1,0,0.1,0.2,0.3,0.4,0.5,0.6,0.7,0.8], "labelExpr": "'' + datum.value", "labelPadding": 10, "titleX": -88, "titleY": 213, "titleAngle": -90, "titleBaseline": "middle", "titleAlign": "center"}},
  "color": {"field": "s", "type": "nominal",
            "scale": {"domain": ["225°C","250°C","275°C","300°C"], "range": ["#00F000","#3D66FF","#FFC000","#000000"]},
            "legend": {"title": null, "orient": "none", "legendX": 181, "legendY": 6, "direction": "horizontal", "columns": 4, "padding": 0, "symbolOffset": 0, "symbolType": "stroke", "symbolSize": 676, "symbolStrokeWidth": 1.3, "labelFontSize": 22, "labelColor": "black", "labelOffset": 6, "columnPadding": 46}},
  "order": {"value": null}
}
},
{
"data": {"values": [{}]},
"mark": {"type": "rect", "fill": "white", "stroke": "black", "strokeWidth": 1},
"encoding": {
  "x": {"datum": -1.4003, "type": "quantitative", "scale": {"domain": [-2.5, 2.5], "nice": false, "zero": false}},
  "x2": {"datum": 2.4795},
  "y": {"datum": 0.7962, "type": "quantitative", "scale": {"domain": [-0.1, 0.8], "nice": false, "zero": false}},
  "y2": {"datum": 0.7321}
}
},
{
"data": {"values": [
{"x":-1.906,"y":0.577,"x2":-1.598,"y2":0.526},
{"x":-1.906,"y":0.504,"x2":-1.462,"y2":0.4245},
{"x":-1.906,"y":0.432,"x2":-1.346,"y2":0.328},
{"x":-1.906,"y":0.364,"x2":-0.867,"y2":0.160}
]},
"mark": {"type": "rule", "color": "black", "strokeWidth": 1},
"encoding": {
  "x": {"field": "x", "type": "quantitative", "scale": {"domain": [-2.5, 2.5], "nice": false, "zero": false}},
  "y": {"field": "y", "type": "quantitative", "scale": {"domain": [-0.1, 0.8], "nice": false, "zero": false}},
  "x2": {"field": "x2"}, "y2": {"field": "y2"}
}
},
{
"data": {"values": [
{"t":"225°C","x":-2.4385,"x2":-1.906,"y":0.619,"y2":0.577},
{"t":"250°C","x":-2.4385,"x2":-1.906,"y":0.545,"y2":0.504},
{"t":"275°C","x":-2.4385,"x2":-1.906,"y":0.474,"y2":0.432},
{"t":"300°C","x":-2.4385,"x2":-1.906,"y":0.406,"y2":0.364}
]},
"layer": [
  {"mark": {"type": "rect", "fill": "white", "stroke": "black", "strokeWidth": 1},
   "encoding": {
     "x": {"field": "x", "type": "quantitative", "scale": {"domain": [-2.5, 2.5], "nice": false, "zero": false}},
     "x2": {"field": "x2"},
     "y": {"field": "y", "type": "quantitative", "scale": {"domain": [-0.1, 0.8], "nice": false, "zero": false}},
     "y2": {"field": "y2"}
   }},
  {"mark": {"type": "text", "fontSize": 18, "color": "black", "align": "center", "baseline": "middle"},
   "encoding": {
     "x": {"datum": -2.172, "type": "quantitative"},
     "y": {"field": "y", "type": "quantitative"},
     "yOffset": {"value": 11},
     "text": {"field": "t"}
   }}
]
}
]
}
